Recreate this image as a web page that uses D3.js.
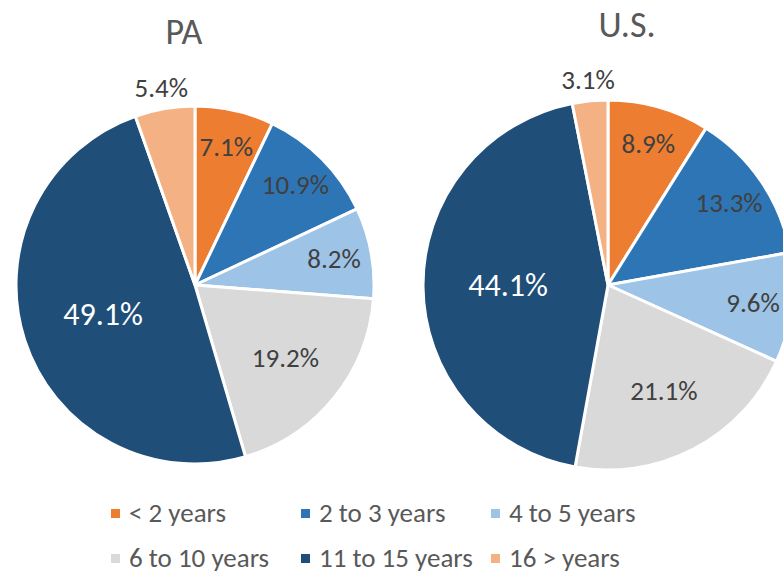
<!DOCTYPE html>
<html>
<head>
<meta charset="utf-8">
<script src="https://cdn.jsdelivr.net/npm/d3@7"></script>
<style>
  body { margin: 0; background: #fff; overflow: hidden; }
  svg { display: block; font-family: Carlito, "Open Sans", sans-serif; }
  .title { fill: #595959; font-size: 36px; }
  .legend text { fill: #595959; font-size: 27px; }
</style>
</head>
<body>
<svg class="svg" width="783" height="571"></svg>
<script>
// categories in slice order (clockwise from 12 o'clock)
var categories = ['< 2 years', '2 to 3 years', '4 to 5 years', '6 to 10 years', '11 to 15 years', '16 > years'];
var paValues = [7.1, 10.9, 8.2, 19.2, 49.1, 5.4];
var usValues = [8.9, 13.3, 9.6, 21.1, 44.1, 3.1];
var titles = ['PA', 'U.S.'];
var colormap = ['#ED7D31', '#2E75B6', '#9DC3E6', '#D9D9D9', '#1F4E79', '#F4B183'];

var svg = d3.select('.svg');

// two separate pie charts, placed side by side
var pies = [
  {title: titles[0], values: paValues, cx: 195, cy: 285, r: 179, titleX: 184, titleY: 44},
  {title: titles[1], values: usValues, cx: 608, cy: 285, r: 185, titleX: 627, titleY: 37}
];

var pie = d3.pie().sort(null).value(function(d){ return d; });

pies.forEach(function(p){
  var g = svg.append('g').attr('transform', 'translate(' + p.cx + ',' + p.cy + ')');
  var arc = d3.arc().innerRadius(0).outerRadius(p.r);
  var arcs = pie(p.values);

  g.selectAll('path').data(arcs).enter().append('path')
    .attr('d', arc)
    .attr('fill', function(d, i){ return colormap[i]; })
    .attr('stroke', '#fff')
    .attr('stroke-width', 3)
    .attr('stroke-linejoin', 'round');

  // labels: small slices go outside, big ones are pulled in toward the center
  g.selectAll('text').data(arcs).enter().append('text')
    .attr('transform', function(d){
      var v = d.data, lr;
      if (v < 6) lr = p.r + 21;
      else if (v < 15) lr = p.r * 0.79;
      else if (v < 30) lr = p.r * 0.65;
      else lr = p.r * 0.54;
      var a = (d.startAngle + d.endAngle) / 2;
      return 'translate(' + (Math.sin(a) * lr) + ',' + (-Math.cos(a) * lr) + ')';
    })
    .attr('text-anchor', 'middle')
    .attr('dy', '0.32em')
    .style('font-size', function(d){ return d.data > 40 ? '32px' : '27px'; })
    .attr('fill', function(d, i){ return i == 4 ? '#fff' : '#404040'; })
    .text(function(d){ return d.data.toFixed(1) + '%'; });

  svg.append('text').attr('class', 'title')
    .attr('x', p.titleX).attr('y', p.titleY)
    .attr('text-anchor', 'middle')
    .text(p.title);
});

// legend, 3 per row
var legend = svg.append('g').attr('class', 'legend');
var colX = [111, 301, 491], rowY = [522, 567];
var item = legend.selectAll('g').data(categories).enter().append('g')
  .attr('transform', function(d, i){ return 'translate(' + colX[i % 3] + ',' + rowY[Math.floor(i / 3)] + ')'; });
item.append('rect').attr('x', 0).attr('y', -13).attr('width', 9).attr('height', 9)
  .attr('fill', function(d, i){ return colormap[i]; });
item.append('text').attr('x', 18).attr('y', 0)
  .text(function(d){ return d; });
</script>
</body>
</html>
